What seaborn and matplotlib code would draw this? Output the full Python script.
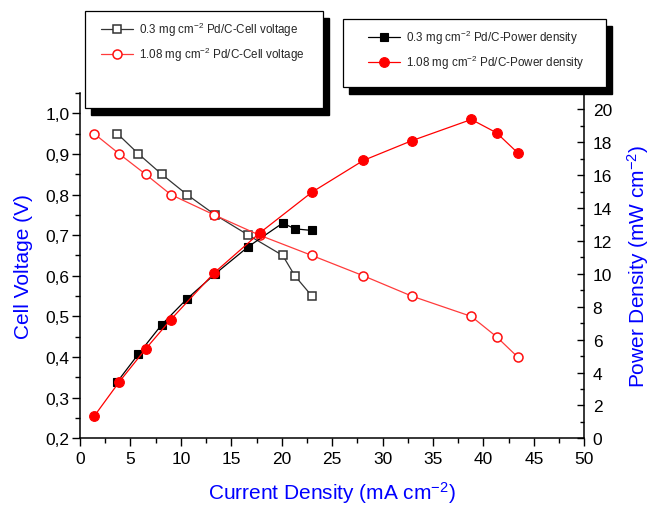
import matplotlib
matplotlib.use("Agg")
import matplotlib.pyplot as plt
import seaborn as sns
from matplotlib.patches import Rectangle
from matplotlib.ticker import AutoMinorLocator, FixedLocator

sns.set_theme(style="ticks")
plt.rcParams['font.family'] = ['Liberation Sans', 'DejaVu Sans']
plt.rcParams['mathtext.default'] = 'regular'

# current density (mA cm-2), cell voltage (V), power density (mW cm-2)
j_03 = [3.7, 5.8, 8.1, 10.6, 13.4, 16.7, 20.1, 21.3, 23.0]
v_03 = [0.95, 0.90, 0.85, 0.80, 0.75, 0.70, 0.65, 0.60, 0.55]
p_03 = [3.44, 5.13, 6.91, 8.48, 10.0, 11.66, 13.09, 12.74, 12.64]

j_108 = [1.4, 3.9, 6.5, 9.0, 13.3, 17.8, 23.0, 28.1, 32.9, 38.8, 41.3, 43.4]
v_108 = [0.95, 0.90, 0.85, 0.80, 0.75, 0.70, 0.65, 0.60, 0.55, 0.50, 0.45, 0.40]
p_108 = [1.34, 3.44, 5.43, 7.22, 10.06, 12.48, 14.97, 16.9, 18.1, 19.39, 18.58, 17.36]

x_ticks = [0, 5, 10, 15, 20, 25, 30, 35, 40, 45, 50]
v_ticks = [0.2, 0.3, 0.4, 0.5, 0.6, 0.7, 0.8, 0.9, 1.0]
v_ticklabels = ['0,2', '0,3', '0,4', '0,5', '0,6', '0,7', '0,8', '0,9', '1,0']
p_ticks = [0, 2, 4, 6, 8, 10, 12, 14, 16, 18, 20]

labels_v = ['0.3 mg cm$^{-2}$ Pd/C-Cell voltage', '1.08 mg cm$^{-2}$ Pd/C-Cell voltage']
labels_p = ['0.3 mg cm$^{-2}$ Pd/C-Power density', '1.08 mg cm$^{-2}$ Pd/C-Power density']

W, H = 651, 506
fig = plt.figure(figsize=(W / 100, H / 100), dpi=100)
ax = fig.add_axes([80 / W, 1 - 439.3 / H, 504.3 / W, 345.3 / H])
ax2 = ax.twinx()

# cell voltage curves (left axis)
sns.lineplot(x=j_03, y=v_03, ax=ax, estimator=None, color='#333333', lw=0.9,
             marker='s', ms=5.8, mfc='white', markeredgecolor='#333333', mew=1.1)
sns.lineplot(x=j_108, y=v_108, ax=ax, estimator=None, color='#ff3b3b', lw=0.9,
             marker='o', ms=6.5, mfc='white', markeredgecolor='#ff1010', mew=1.1)
# power density curves (right axis)
sns.lineplot(x=j_03, y=p_03, ax=ax2, estimator=None, color='black', lw=0.9,
             marker='s', ms=5.8, mfc='black', markeredgecolor='black', mew=0.8)
sns.lineplot(x=j_108, y=p_108, ax=ax2, estimator=None, color='#ff0000', lw=0.9,
             marker='o', ms=7, mfc='#ff0000', markeredgecolor='#ff0000', mew=0.8)

ax.set_xlim(0, 50)
ax.set_ylim(0.2, 1.05)
ax2.set_ylim(0, 21)

ax.xaxis.set_major_locator(FixedLocator(x_ticks))
ax.xaxis.set_minor_locator(AutoMinorLocator(2))
ax.yaxis.set_major_locator(FixedLocator(v_ticks))
ax.set_yticklabels(v_ticklabels)
ax.yaxis.set_minor_locator(AutoMinorLocator(2))
ax2.yaxis.set_major_locator(FixedLocator(p_ticks))
ax2.yaxis.set_minor_locator(AutoMinorLocator(2))

for a in (ax, ax2):
    a.spines['top'].set_visible(False)
    for s in a.spines.values():
        s.set_linewidth(1.1)
        s.set_color('black')
ax.spines['right'].set_visible(False)
ax2.spines['left'].set_visible(False)
ax2.spines['bottom'].set_visible(False)

ax.tick_params(axis='both', which='major', direction='out', length=5.5, width=1,
               labelsize=12.5, colors='black', pad=2)
ax.tick_params(axis='both', which='minor', direction='out', length=3.5, width=1, colors='black')
ax.tick_params(axis='x', which='major', pad=4)
ax2.tick_params(axis='y', which='major', direction='in', length=5, width=1,
                labelsize=12.5, colors='black', pad=6)
ax2.tick_params(axis='y', which='minor', direction='in', length=3, width=1, colors='black')

ax.set_xlabel('Current Density (mA cm$^{-2}$)', color='#0000ff', fontsize=15)
ax.set_ylabel('Cell Voltage (V)', color='#0000ff', fontsize=15)
ax2.set_ylabel('Power Density (mW cm$^{-2}$)', color='#0000ff', fontsize=15)
ax.xaxis.set_label_coords(0.5, -0.117)
ax.yaxis.set_label_coords(-0.094, 0.5)
ax2.yaxis.set_label_coords(1.08, 0.5)

# legend boxes with solid drop shadows
def shadow_box(x0, y0, x1, y1, dx, dy):
    fig.add_artist(Rectangle((x0 / W + dx / W, 1 - (y1 + dy) / H), (x1 - x0) / W, (y1 - y0) / H,
                             transform=fig.transFigure, facecolor='black', edgecolor='black', zorder=2))
    fig.add_artist(Rectangle((x0 / W, 1 - y1 / H), (x1 - x0) / W, (y1 - y0) / H,
                             transform=fig.transFigure, facecolor='white', edgecolor='black',
                             lw=0.9, zorder=3))

shadow_box(85, 12, 323, 109, 5.5, 6.5)
shadow_box(343, 20, 606, 88, 6, 6.5)

h_v = ax.get_lines()[:2]
h_p = ax2.get_lines()[:2]
leg_kw = dict(frameon=False, fontsize=8.4, handlelength=2.7, handletextpad=0.55,
              labelspacing=0.6, borderpad=0, borderaxespad=0, loc='upper left')
lg1 = fig.legend(h_v, labels_v, bbox_to_anchor=(101 / W, 1 - 21 / H), **leg_kw)
lg2 = fig.legend(h_p, labels_p, bbox_to_anchor=(368 / W, 1 - 29 / H), **leg_kw)
lg1.set_zorder(5)
lg2.set_zorder(5)

fig.savefig('out.png', dpi=100)
